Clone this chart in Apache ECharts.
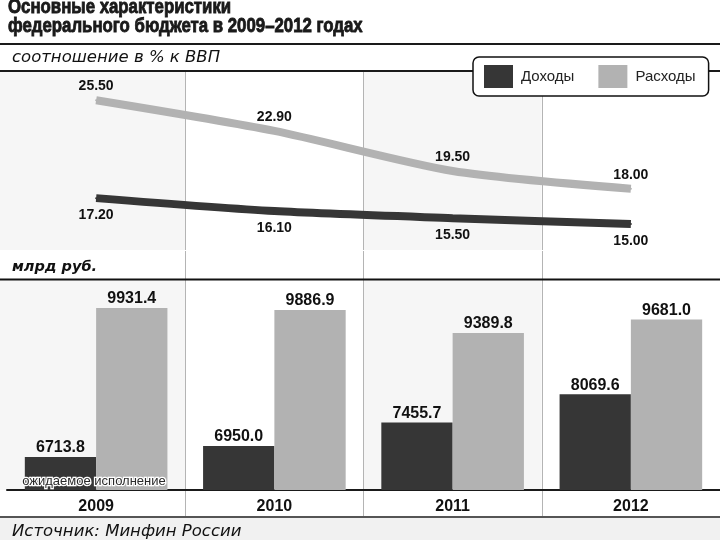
<!DOCTYPE html>
<html><head><meta charset="utf-8">
<script src="https://cdn.jsdelivr.net/npm/echarts@6/dist/echarts.min.js"></script>
<style>html,body{margin:0;padding:0;background:#fff}#c{width:720px;height:540px}</style>
</head><body><div id="c"></div>
<script>
const years = ['2009', '2010', '2011', '2012'];
const gdpIncome = [17.2, 16.1, 15.5, 15.0];
const gdpSpend = [25.5, 22.9, 19.5, 18.0];
const rubIncome = [6713.8, 6950.0, 7455.7, 8069.6];
const rubSpend = [9931.4, 9886.9, 9389.8, 9681.0];
const seriesNames = ['Доходы', 'Расходы'];

const cDark = '#363636', cLight = '#b2b2b2', cShade = '#f6f6f6';
const F = '"Liberation Sans", Arial, sans-serif';
const chart = echarts.init(document.getElementById('c'), null, {renderer: 'canvas'});

const gridBox = {left: 7, width: 716};
const blankX = (gi) => ({
  type: 'category', gridIndex: gi, data: years, boundaryGap: true,
  axisLine: {show: false}, axisTick: {show: false}, axisLabel: {show: false},
  splitLine: {show: true, showMinLine: false, showMaxLine: false, lineStyle: {color: '#b4b4b4', width: 1}}
});

function txt(text, x, y, font, extra, el) {
  return Object.assign({type: 'text', x: x, y: y, z: 50,
    style: Object.assign({text: text, font: font, fill: '#111', textVerticalAlign: 'middle', verticalAlign: 'middle'}, extra || {})}, el || {});
}
function hline(y, w, color) {
  return {type: 'line', z: 1, shape: {x1: 0, y1: y, x2: 720, y2: y}, style: {stroke: color || '#1a1a1a', lineWidth: w}};
}

chart.setOption({
  animation: false,
  backgroundColor: '#ffffff',
  grid: [
    Object.assign({top: 72, height: 178}, gridBox),
    Object.assign({top: 280, height: 210}, gridBox),
    Object.assign({top: 251, height: 29}, gridBox),
    Object.assign({top: 491, height: 26}, gridBox)
  ],
  legend: {
    data: [{name: seriesNames[0], icon: 'rect'}, {name: seriesNames[1], icon: 'rect'}],
    left: 473, top: 57, orient: 'horizontal',
    itemWidth: 29, itemHeight: 23, itemGap: 24,
    padding: [8, 13, 8, 11],
    backgroundColor: '#fff', borderColor: '#111', borderWidth: 1.5, borderRadius: 6,
    textStyle: {fontFamily: F, fontSize: 15, color: '#222', padding: [0, 0, 0, 3]},
    z: 20
  },
  xAxis: [
    {type: 'category', gridIndex: 0, data: years, boundaryGap: true,
      axisLine: {show: false}, axisTick: {show: false}, axisLabel: {show: false},
      splitLine: {show: true, showMinLine: false, showMaxLine: false, lineStyle: {color: '#b4b4b4', width: 1}},
      splitArea: {show: true, areaStyle: {color: [cShade, '#ffffff']}}},
    {type: 'category', gridIndex: 1, data: years, boundaryGap: true,
      axisLine: {show: true, lineStyle: {color: '#1a1a1a', width: 2}}, axisTick: {show: false},
      axisLabel: {show: true, margin: 9, fontFamily: F, fontWeight: 'bold', fontSize: 16, color: '#111'},
      splitLine: {show: true, showMinLine: false, showMaxLine: false, lineStyle: {color: '#b4b4b4', width: 1}},
      splitArea: {show: true, areaStyle: {color: [cShade, '#ffffff']}}},
    blankX(2),
    blankX(3)
  ],
  yAxis: [
    {type: 'value', gridIndex: 0, min: 12.8, max: 27.9, show: false},
    {type: 'value', gridIndex: 1, min: 6000, max: 10536, show: false},
    {type: 'value', gridIndex: 2, min: 0, max: 1, show: false},
    {type: 'value', gridIndex: 3, min: 0, max: 1, show: false}
  ],
  series: [
    {name: seriesNames[0], type: 'line', xAxisIndex: 0, yAxisIndex: 0, data: gdpIncome,
      smooth: 0.25, symbol: 'circle', symbolSize: 2, showSymbol: true,
      itemStyle: {color: cDark}, lineStyle: {color: cDark, width: 8},
      label: {show: true, position: 'bottom', distance: 9, fontFamily: F, fontWeight: 'bold', fontSize: 14, color: '#111',
        formatter: (p) => p.value.toFixed(2)}},
    {name: seriesNames[1], type: 'line', xAxisIndex: 0, yAxisIndex: 0, data: gdpSpend,
      smooth: 0.25, symbol: 'circle', symbolSize: 2, showSymbol: true,
      itemStyle: {color: cLight}, lineStyle: {color: cLight, width: 8},
      label: {show: true, position: 'top', distance: 6, fontFamily: F, fontWeight: 'bold', fontSize: 14, color: '#111',
        formatter: (p) => p.value.toFixed(2)}},
    {name: seriesNames[0], type: 'bar', xAxisIndex: 1, yAxisIndex: 1, data: rubIncome,
      barGap: '0%', barCategoryGap: '20%', itemStyle: {color: cDark},
      label: {show: true, position: 'top', distance: 1, fontFamily: F, fontWeight: 'bold', fontSize: 16, color: '#111',
        formatter: (p) => p.value.toFixed(1)}},
    {name: seriesNames[1], type: 'bar', xAxisIndex: 1, yAxisIndex: 1, data: rubSpend,
      barGap: '0%', barCategoryGap: '20%', itemStyle: {color: cLight},
      label: {show: true, position: 'top', distance: 1, fontFamily: F, fontWeight: 'bold', fontSize: 16, color: '#111',
        formatter: (p) => p.value.toFixed(1)}}
  ],
  graphic: [
    {type: 'rect', z: 0, shape: {x: 0, y: 518, width: 720, height: 22}, style: {fill: '#f1f1f1'}},
    {type: 'rect', z: 0, shape: {x: 0, y: 72, width: 7, height: 178}, style: {fill: cShade}},
    {type: 'rect', z: 0, shape: {x: 0, y: 280, width: 7, height: 210}, style: {fill: cShade}},
    hline(44, 2, '#1a1a1a'),
    hline(71, 2, '#1a1a1a'),
    hline(279.5, 2, '#111'),
    hline(517, 2, '#555'),
    txt('Основные характеристики', 8, 7, 'bold 21px ' + F, {fill: '#1a1a1a', stroke: '#1a1a1a', lineWidth: 0.9}, {scaleX: 0.8}),
    txt('федерального бюджета в 2009–2012 годах', 8, 26, 'bold 21px ' + F, {fill: '#1a1a1a', stroke: '#1a1a1a', lineWidth: 0.9}, {scaleX: 0.8}),
    txt('соотношение в % к ВВП', 12, 58, 'italic 16.5px "DejaVu Sans", sans-serif'),
    txt('млрд руб.', 12, 267, 'italic bold 14.5px "DejaVu Sans", sans-serif'),
    txt('Источник: Минфин России', 12, 532, 'italic 16.5px "DejaVu Sans", sans-serif'),
    txt('ожидаемое исполнение', 94, 481, '13px ' + F, {fill: '#2a2a2a', textAlign: 'center', align: 'center', stroke: '#fff', lineWidth: 2.5})
  ]
});
</script></body></html>
